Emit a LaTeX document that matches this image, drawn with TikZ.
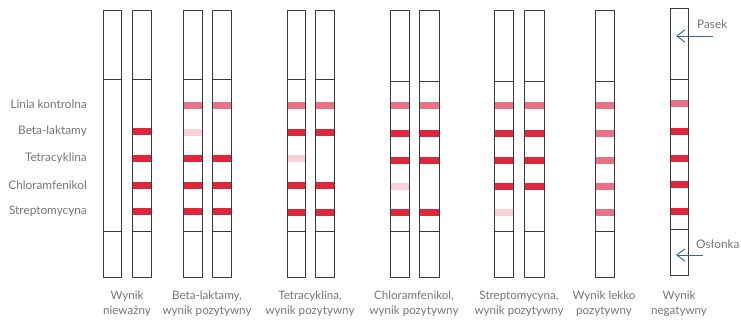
\documentclass[tikz,border=0pt]{standalone}
\usepackage{fontspec}
\setmainfont{Lato}
\usetikzlibrary{arrows.meta}
\definecolor{txt}{HTML}{767676}
\definecolor{edge}{HTML}{3A3A3A}
\definecolor{bandR}{HTML}{E0263A}
\definecolor{bandM}{HTML}{E87283}
\definecolor{bandL}{HTML}{F9D2D8}
\definecolor{arr}{HTML}{2F6A9C}
\tikzset{
  stripbox/.style={draw=edge, line width=0.9pt},
  divline/.style={draw=edge, line width=0.9pt},
  lbl/.style={text=txt, font=\fontsize{11.8}{13}\selectfont, inner sep=0pt},
  caption/.style={text=txt, font=\fontsize{11.6}{15}\selectfont, align=center, inner sep=0pt, anchor=north},
  ptr/.style={draw=arr, line width=0.9pt, -{Straight Barb[length=8pt,width=12pt]}},
}
% #1 left x, #2 right x, #3 top, #4 bottom, #5 div1, #6 div2, #7 name
\newcommand{\mystrip}[7]{%
  \node[stripbox, inner sep=0pt, minimum width={(#2-#1)*1pt}, minimum height={(#4-#3)*1pt}, anchor=north west] (#7) at (#1,#3) {};
  \draw[divline] (#1,#5) -- (#2,#5);
  \draw[divline] (#1,#6) -- (#2,#6);
}
% #1 left, #2 right, #3 center y, #4 colour
\newcommand{\myband}[4]{%
  \fill[#4] (#1+0.5,#3-3.5) rectangle (#2-0.5,#3+3.5);
}
\begin{document}
\begin{tikzpicture}[x=1pt,y=-1pt]
\useasboundingbox (0,0) rectangle (741,322);
\fill[white] (0,0) rectangle (741,322);

% left labels
\node[lbl, anchor=east] (lk) at (87,104) {Linia kontrolna};
\node[lbl, anchor=east] (lb) at (87,131) {Beta-laktamy};
\node[lbl, anchor=east] (lt) at (87,158) {Tetracyklina};
\node[lbl, anchor=east] (lc) at (87,185) {Chloramfenikol};
\node[lbl, anchor=east] (ls) at (87,211) {Streptomycyna};

% group 1
\myband{132}{151}{131}{bandR}
\myband{132}{151}{158}{bandR}
\myband{132}{151}{185}{bandR}
\myband{132}{151}{211}{bandR}
\mystrip{103}{121}{10}{277}{79}{231}{s1}
\mystrip{132}{151}{10}{277}{79}{231}{s2}

% group 2
\myband{183}{202}{105}{bandM}
\myband{183}{202}{132}{bandL}
\myband{183}{202}{158}{bandR}
\myband{183}{202}{185}{bandR}
\myband{183}{202}{211}{bandR}
\myband{212}{231}{105}{bandM}
\myband{212}{231}{158}{bandR}
\myband{212}{231}{185}{bandR}
\myband{212}{231}{211}{bandR}
\mystrip{183}{202}{10}{277}{79}{231}{s3}
\mystrip{212}{231}{10}{277}{79}{231}{s4}

% group 3
\myband{287}{305}{105}{bandM}
\myband{287}{305}{132}{bandR}
\myband{287}{305}{158}{bandL}
\myband{287}{305}{185}{bandR}
\myband{287}{305}{212}{bandR}
\myband{315}{334}{105}{bandM}
\myband{315}{334}{132}{bandR}
\myband{315}{334}{185}{bandR}
\myband{315}{334}{212}{bandR}
\mystrip{287}{305}{10}{277}{79}{231}{s5}
\mystrip{315}{334}{10}{277}{79}{231}{s6}

% group 4
\myband{390}{409}{105}{bandM}
\myband{390}{409}{133}{bandR}
\myband{390}{409}{160}{bandR}
\myband{390}{409}{186}{bandL}
\myband{390}{409}{212}{bandR}
\myband{419}{439}{105}{bandM}
\myband{419}{439}{133}{bandR}
\myband{419}{439}{160}{bandR}
\myband{419}{439}{212}{bandR}
\mystrip{390}{409}{10}{277}{81}{231}{s7}
\mystrip{419}{439}{10}{277}{81}{231}{s8}

% group 5
\myband{494}{513}{105}{bandM}
\myband{494}{513}{133}{bandR}
\myband{494}{513}{160}{bandR}
\myband{494}{513}{186}{bandR}
\myband{494}{513}{212}{bandL}
\myband{524}{544}{105}{bandM}
\myband{524}{544}{133}{bandR}
\myband{524}{544}{160}{bandR}
\myband{524}{544}{186}{bandR}
\mystrip{494}{513}{10}{277}{81}{231}{s9}
\mystrip{524}{544}{10}{277}{81}{231}{s10}

% group 6
\myband{595}{614}{105}{bandM}
\myband{595}{614}{133}{bandM}
\myband{595}{614}{160}{bandM}
\myband{595}{614}{186}{bandM}
\myband{595}{614}{212}{bandM}
\mystrip{595}{614}{10}{277}{81}{231}{s11}

% group 7
\myband{670}{688}{103}{bandM}
\myband{670}{688}{131}{bandR}
\myband{670}{688}{158}{bandR}
\myband{670}{688}{184}{bandR}
\myband{670}{688}{211}{bandR}
\mystrip{670}{688}{8}{275}{79}{229}{s12}

% pointers
\node[lbl, anchor=west] (pasek) at (697,24) {Pasek};
\node[lbl, anchor=west] (oslonka) at (696,244) {Osłonka};
\coordinate (pa0) at (713,36);
\coordinate (pa1) at (676,36);
\coordinate (po0) at (703,255);
\coordinate (po1) at (676,255);
\draw[ptr] (pa0) -- (pa1);
\draw[ptr] (po0) -- (po1);

% captions
\node[caption] (c1) at (127,291) {Wynik\\nieważny};
\node[caption] (c2) at (207,291) {Beta-laktamy,\\wynik pozytywny};
\node[caption] (c3) at (310,291) {Tetracyklina,\\wynik pozytywny};
\node[caption] (c4) at (414,291) {Chloramfenikol,\\wynik pozytywny};
\node[caption] (c5) at (519,291) {Streptomycyna,\\wynik pozytywny};
\node[caption] (c6) at (604,291) {Wynik lekko\\pozytywny};
\node[caption] (c7) at (679,291) {Wynik\\negatywny};
\end{tikzpicture}
\end{document}
